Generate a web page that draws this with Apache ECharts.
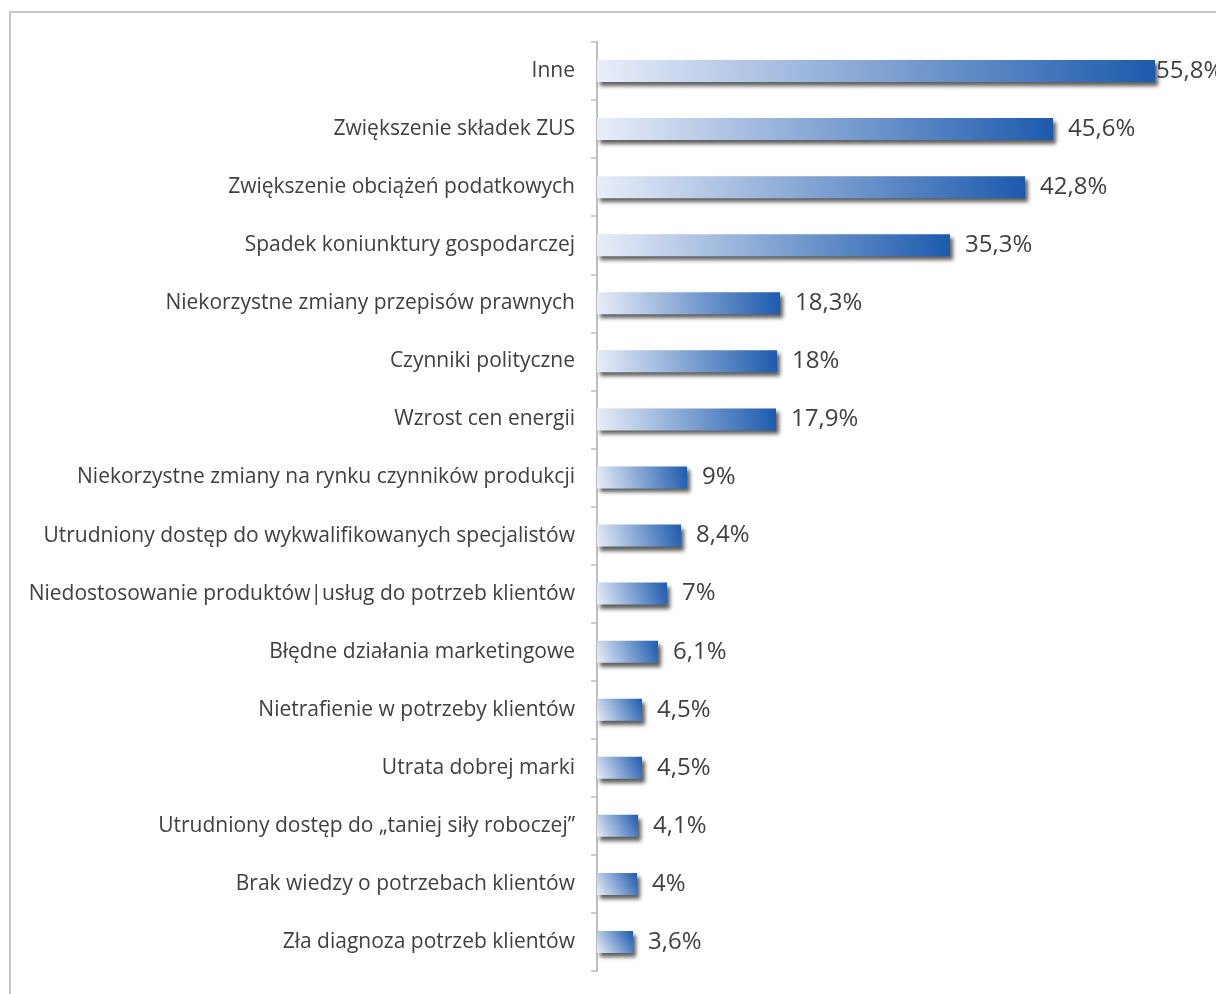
<!DOCTYPE html>
<html>
<head>
<meta charset="utf-8">
<script src="https://cdn.jsdelivr.net/npm/echarts@6/dist/echarts.min.js"></script>
<style>
  html, body { margin: 0; padding: 0; background: #ffffff; }
  #chart { width: 1216px; height: 994px; }
</style>
</head>
<body>
<div id="chart"></div>
<script>
// Przyczyny — kategorie w kolejności od góry
const categories = [
  'Inne',
  'Zwiększenie składek ZUS',
  'Zwiększenie obciążeń podatkowych',
  'Spadek koniunktury gospodarczej',
  'Niekorzystne zmiany przepisów prawnych',
  'Czynniki polityczne',
  'Wzrost cen energii',
  'Niekorzystne zmiany na rynku czynników produkcji',
  'Utrudniony dostęp do wykwalifikowanych specjalistów',
  'Niedostosowanie produktów|usług do potrzeb klientów',
  'Błędne działania marketingowe',
  'Nietrafienie w potrzeby klientów',
  'Utrata dobrej marki',
  'Utrudniony dostęp do „taniej siły roboczej”',
  'Brak wiedzy o potrzebach klientów',
  'Zła diagnoza potrzeb klientów'
];

// Odsetek wskazań (%)
const values = [55.8, 45.6, 42.8, 35.3, 18.3, 18, 17.9, 9, 8.4, 7, 6.1, 4.5, 4.5, 4.1, 4, 3.6];

const fmtPct = v => String(v).replace('.', ',') + '%';

const barFill = {
  type: 'linear', x: 0, y: 1, x2: 1, y2: 0,
  colorStops: [
    { offset: 0, color: '#e9eef9' },
    { offset: 1, color: '#1c5aad' }
  ]
};

const chart = echarts.init(document.getElementById('chart'), null, { renderer: 'canvas' });

chart.setOption({
  animation: false,
  backgroundColor: '#ffffff',
  graphic: [{
    type: 'rect',
    shape: { x: 10, y: 12, width: 1300, height: 1100 },
    style: { fill: 'none', stroke: '#c6c6c6', lineWidth: 2 },
    silent: true,
    z: -1
  }],
  grid: { left: 597, right: 19, top: 42, bottom: 23, containLabel: false },
  xAxis: {
    type: 'value',
    min: 0,
    max: 60,
    show: false
  },
  yAxis: {
    type: 'category',
    inverse: true,
    data: categories,
    axisLine: { show: true, lineStyle: { color: '#bfbfbf', width: 2 } },
    axisTick: { show: true, length: 6, lineStyle: { color: '#bfbfbf', width: 1.5 } },
    axisLabel: {
      margin: 22,
      color: '#404040',
      fontFamily: 'Open Sans',
      fontSize: 21
    },
    splitLine: { show: false }
  },
  series: [{
    type: 'bar',
    barWidth: 22,
    data: values.map((v, i) => ({
      value: v,
      label: i === 0 ? { distance: 1 } : undefined
    })),
    itemStyle: {
      color: barFill,
      shadowColor: 'rgba(40,40,40,0.75)',
      shadowBlur: 4,
      shadowOffsetX: 3,
      shadowOffsetY: 4
    },
    label: {
      show: true,
      position: 'right',
      distance: 15,
      color: '#404040',
      fontFamily: 'Open Sans',
      fontSize: 24,
      formatter: p => fmtPct(p.value)
    }
  }]
});
</script>
</body>
</html>
